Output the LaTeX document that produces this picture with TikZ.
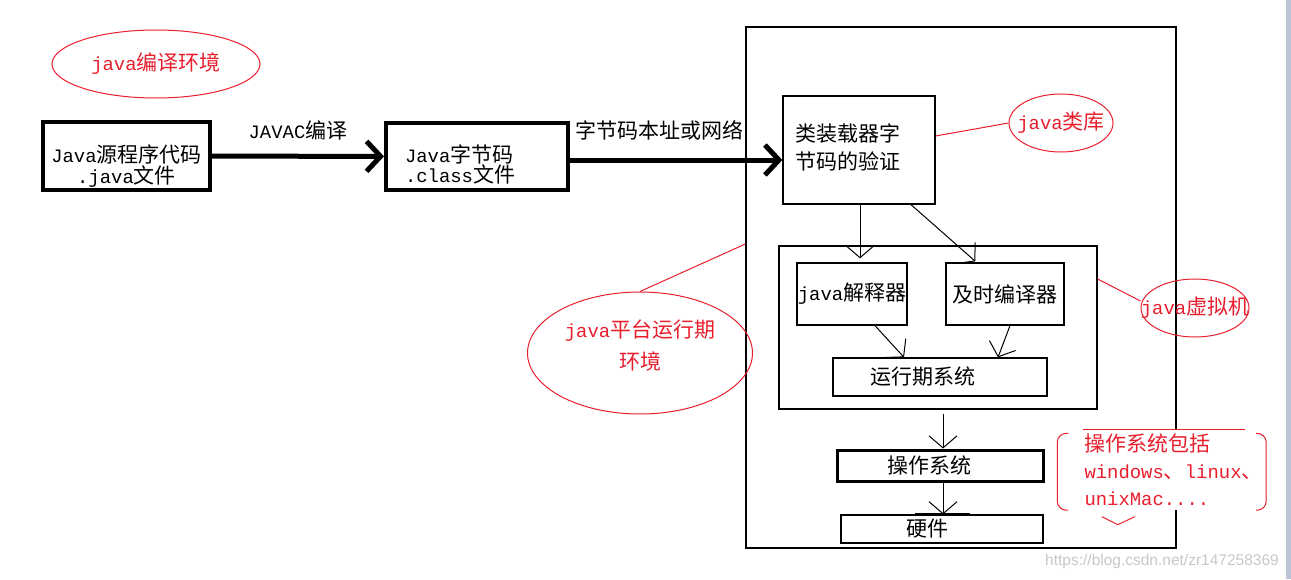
\documentclass[tikz,border=0pt]{standalone}
\usepackage{fontspec}
\setmainfont{Noto Sans CJK SC}
\setmonofont[Scale=0.9]{Liberation Mono}
\newfontfamily\urlfont{Liberation Sans}
\usetikzlibrary{positioning,arrows.meta,shapes.geometric}
\definecolor{notered}{RGB}{232,30,45}
\definecolor{framegrey}{RGB}{186,196,212}

\begin{document}
\begin{tikzpicture}[x=1pt, y=-1pt,
  font=\fontsize{21}{24}\selectfont,
  box/.style={rectangle, draw=black, line width=1.3pt, inner sep=0pt, align=center},
  heavy/.style={box, line width=4pt},
  boxtext/.style={inner sep=0pt, font=\fontsize{21}{19}\selectfont},
  note/.style={ellipse, draw=notered, line width=1pt, inner sep=0pt},
  notetext/.style={text=notered, inner sep=0pt, align=center},
  lead/.style={draw=notered, line width=1pt},
  flow/.style={-{Straight Barb[length=12pt,width=28pt]}, line width=1pt},
  bigflow/.style={-{Straight Barb[length=14pt,width=30pt]}, line width=5pt, line cap=round}
]
\useasboundingbox (0,0) rectangle (1291,579);
\fill[framegrey] (1286,0) rectangle (1291,579);

% compile side
\node[note, minimum width=208pt, minimum height=68pt,
      label={[notetext]center:\texttt{java}编译环境}] (compile) at (156,64) {};
\node[heavy, minimum width=167pt, minimum height=68pt,
      label={[boxtext, align=center, yshift=-10pt]center:{\texttt{Java}源程序代码\\\texttt{.java}文件}}]
      (src) at (126.5,156) {};
\node[heavy, minimum width=182pt, minimum height=67pt,
      label={[boxtext, text width=144pt, align=left, yshift=-8pt]center:{\texttt{Java}字节码\\\texttt{.class}文件}}]
      (cls) at (477,156.5) {};

% runtime side
\node[box, minimum width=430pt, minimum height=521pt] (jre) at (961,287.5) {};
\node[box, minimum width=318pt, minimum height=163pt] (jvm) at (938,327.5) {};
\node[box, minimum width=152pt, minimum height=108pt,
      label={[inner sep=0pt, text width=128pt, align=left, font=\fontsize{21}{28}\selectfont, yshift=3pt]center:{类装载器字\\节码的验证}}]
      (loader) at (859,150) {};
\node[box, minimum width=110pt, minimum height=62pt] (interp) at (852,294) {\texttt{java}解释器};
\node[box, minimum width=118pt, minimum height=62pt] (jit) at (1005,294) {及时编译器};
\node[box, minimum width=214pt, minimum height=38pt, text width=140pt, align=left] (rts) at (940,377) {运行期系统};
\node[box, line width=3pt, minimum width=206pt, minimum height=31pt, text width=106pt, align=left] (os) at (940,465.5) {操作系统};
\node[box, minimum width=202pt, minimum height=28pt, text width=72pt, align=left] (hw) at (942,529) {硬件};
\draw[line width=3pt] ([xshift=-27pt]hw.north) -- ([xshift=28pt]hw.north);

% notes
\node[note, minimum width=104pt, minimum height=58pt,
      label={[notetext]center:\texttt{java}类库}] (lib) at (1061,123) {};
\node[note, minimum width=225pt, minimum height=122pt,
      label={[notetext, font=\fontsize{21}{32}\selectfont, yshift=7pt]center:{\texttt{java}平台运行期\\环境}}] (plat) at (640,353) {};
\node[note, minimum width=108pt, minimum height=58pt,
      label={[notetext]center:\texttt{java}虚拟机}] (vm) at (1195,308) {};

\draw[lead] ([yshift=14pt]loader.east) -- (lib.west);
\draw[lead] ([yshift=43.5pt]jre.west) -- (plat.north);
\draw[lead] ([yshift=48.5pt]jvm.east) -- ([yshift=7pt]vm.west);

% arrows
\draw[bigflow] (src) -- node[above=13.5pt, inner sep=0pt] (javac) {\texttt{JAVAC}编译} (cls);
\draw[bigflow] ([yshift=-3.5pt]cls.east) -- node[pos=0.42, above=17.5pt, inner sep=0pt] (route) {字节码本址或网络}
      ([yshift=-3.5pt]cls.east -| loader.west);
\draw[flow] ([xshift=1pt]loader.south) -- ([xshift=8pt,yshift=4pt]interp.north);
\draw[flow] ([xshift=52pt]loader.south) -- ([xshift=30pt,yshift=1pt]jit.north west);
\draw[flow] ([xshift=23pt]interp.south) -- ([xshift=-36pt]rts.north);
\draw[flow] ([xshift=5pt]jit.south) -- ([xshift=58pt]rts.north);
\draw[flow] ([xshift=5pt,yshift=-4pt]jvm.south) -- ([xshift=3pt]os.north);
\draw[flow] ([xshift=3pt]os.south) -- ([xshift=1pt]hw.north);

% os bubble
\node[text=notered, fill=white, align=left, text width=175pt, inner xsep=0pt, inner ysep=4pt,
      font=\fontsize{21}{27}\selectfont] (osnote) at (1172,470)
      {操作系统包括\\\texttt{windows}、\texttt{linux}、\\\texttt{unixMac....}};
\draw[lead] ([xshift=-1.5pt]osnote.north west) -- ([xshift=-14.5pt]osnote.north east);
\draw[lead, rounded corners=9pt] ([xshift=-16pt,yshift=-3.5pt]osnote.north west)
      -- ([xshift=-27pt,yshift=-3.5pt]osnote.north west) -- ([xshift=-27pt]osnote.south west)
      -- ([xshift=-16pt]osnote.south west);
\draw[lead, rounded corners=9pt] ([xshift=-3.5pt,yshift=-3.5pt]osnote.north east)
      -- ([xshift=6.5pt,yshift=-3.5pt]osnote.north east) -- ([xshift=6.5pt]osnote.south east)
      -- ([xshift=-3.5pt]osnote.south east);
\draw[lead] ([xshift=17.5pt,yshift=-6.5pt]osnote.south west) -- ([xshift=33.5pt,yshift=-14.5pt]osnote.south west)
      -- ([xshift=50.5pt,yshift=-6.5pt]osnote.south west);

\node[text=black!22, font=\urlfont\fontsize{15.5}{17}\selectfont, inner sep=0pt] (wm) at (1162,561)
      {https://blog.csdn.net/zr147258369};
\end{tikzpicture}
\end{document}
